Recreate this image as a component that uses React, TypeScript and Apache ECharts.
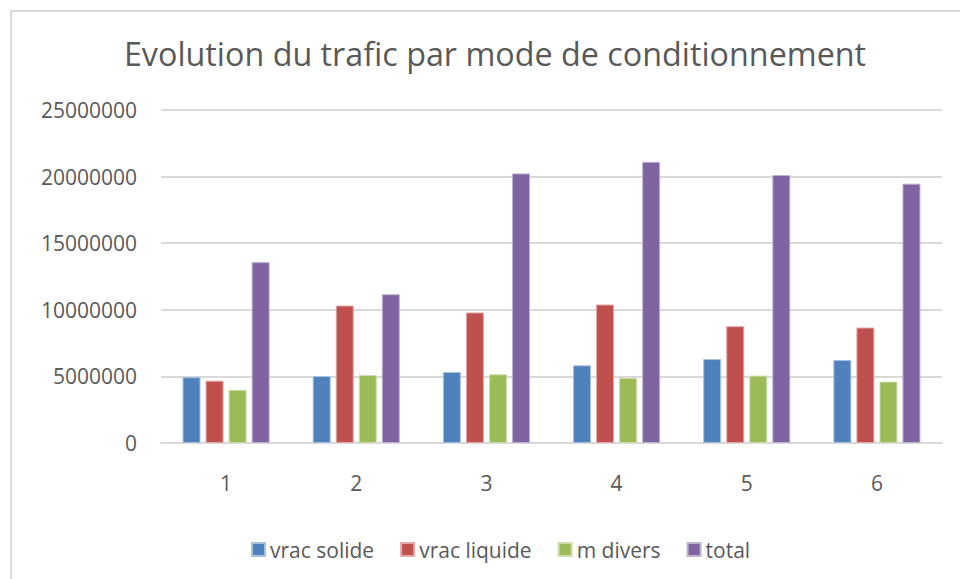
import React, { useEffect, useRef } from "react";
import * as echarts from "echarts";

const categories = ["1", "2", "3", "4", "5", "6"];
const seriesNames = ["vrac solide", "vrac liquide", "m divers", "total"];
const vracSolide = [4940000, 5030000, 5330000, 5830000, 6300000, 6230000];
const vracLiquide = [4680000, 10320000, 9800000, 10400000, 8770000, 8670000];
const mDivers = [3990000, 5110000, 5160000, 4880000, 5060000, 4610000];
const total = [13580000, 11170000, 20240000, 21110000, 20120000, 19470000];
const colors = ["#4F81BD", "#C0504D", "#9BBB59", "#8064A2"];
const borderColors = ["#A7C0DE", "#E0A8A6", "#CDDDAC", "#BFB1D0"];

export default function App() {
  const ref = useRef<HTMLDivElement>(null);
  useEffect(() => {
    document.body.style.margin = "0";
    if (!ref.current) return;
    const chart = echarts.init(ref.current, null, { renderer: "svg" });
    const font = "'Open Sans', sans-serif";
    const data = [vracSolide, vracLiquide, mDivers, total];
    chart.setOption({
      animation: false,
      backgroundColor: "#ffffff",
      title: {
        text: "Evolution du trafic par mode de conditionnement",
        left: 490,
        textAlign: "center",
        top: 32,
        textStyle: { fontFamily: font, fontSize: 32.3, fontWeight: "normal", color: "#595959" },
      },
      graphic: [
        {
          type: "rect",
          shape: { x: 11, y: 11, width: 980, height: 600 },
          style: { fill: "none", stroke: "#d9d9d9", lineWidth: 2 },
          silent: true,
        },
      ],
      legend: {
        data: seriesNames,
        left: 246,
        top: 534,
        itemWidth: 13,
        itemHeight: 13,
        itemGap: 26,
        icon: "rect",
        textStyle: { fontFamily: font, fontSize: 21, color: "#595959" },
      },
      grid: { left: 161, right: 18, top: 110, bottom: 136, containLabel: false },
      xAxis: {
        type: "category",
        data: categories,
        axisLine: { lineStyle: { color: "#d9d9d9", width: 2 } },
        axisTick: { show: false },
        axisLabel: { fontFamily: font, fontSize: 21, color: "#595959", margin: 29 },
      },
      yAxis: {
        type: "value",
        min: 0,
        max: 25000000,
        interval: 5000000,
        axisLine: { show: false },
        axisTick: { show: false },
        splitLine: { lineStyle: { color: "#d9d9d9", width: 2 } },
        axisLabel: {
          fontFamily: font,
          fontSize: 21,
          color: "#595959",
          margin: 24,
          formatter: (v: number) => String(v),
        },
      },
      series: seriesNames.map((name, i) => ({
        name,
        type: "bar",
        data: data[i],
        barWidth: 18,
        barGap: "28%",
        itemStyle: { color: colors[i], borderColor: borderColors[i], borderWidth: 1 },
      })),
    });
    return () => chart.dispose();
  }, []);
  return <div ref={ref} style={{ width: 960, height: 579 }} />;
}
